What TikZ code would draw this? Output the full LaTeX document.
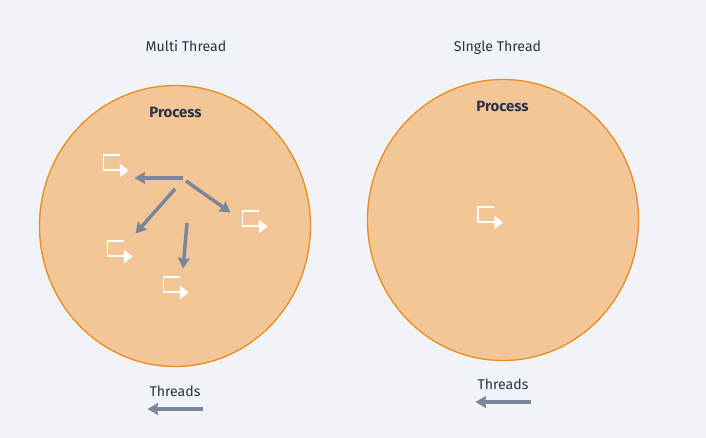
\documentclass[tikz,border=0pt]{standalone}
\usepackage{fontspec}
\setmainfont{Fira Sans}
\usetikzlibrary{arrows.meta}
\definecolor{pagebg}{HTML}{F0F4F9}
\definecolor{procfill}{HTML}{F3C697}
\definecolor{procline}{HTML}{EE8C22}
\definecolor{threadgray}{HTML}{7A869A}
\definecolor{labeltext}{HTML}{2A3347}
\tikzset{
    process/.style = {draw = procline, fill = procfill, line width = 1pt},
    threadarrow/.style = {draw = threadgray, line width = 2.6pt, -{Stealth[length = 8pt, width = 9pt, inset = 1pt]}},
    caption/.style = {anchor = base, text = labeltext, font = \fontsize{10.6}{12}\selectfont},
    proclabel/.style = {anchor = base, text = labeltext, font = \fontsize{11.2}{12}\selectfont\bfseries},
    threadicon/.pic = {
        \draw[white, line width = 1.4pt] (16,0) -- (0,0) -- (0,15) -- (17,15);
        \fill[white] (16.3,8.5) -- (25,15.5) -- (16.3,22.5) -- cycle;
    }
}
\begin{document}
\begin{tikzpicture}[x = 0.75pt, y = -0.75pt]
        \fill[pagebg] (0,0) rectangle (706,438);
        \useasboundingbox (0,0) rectangle (706,438);

        % left process
        \draw[process] (175,226) ellipse (135.5 and 140.5);
        \node[caption] (multi) at (186,51.7) {Multi Thread};
        \node[proclabel] (procA) at (175.5,117.7) {Process};

        \pic at (103.5,155) {threadicon};
        \pic at (242.5,211) {threadicon};
        \pic at (107.5,241) {threadicon};
        \pic at (163.5,277) {threadicon};

        \coordinate (s1) at (183,178);
        \coordinate (e1) at (134.5,178);
        \coordinate (s2) at (175,189);
        \coordinate (e2) at (135.5,233.5);
        \coordinate (s3) at (186,181);
        \coordinate (e3) at (230.5,212.5);
        \coordinate (s4) at (187,223);
        \coordinate (e4) at (183,268.5);
        \draw[threadarrow] (s1) -- (e1);
        \draw[threadarrow] (s2) -- (e2);
        \draw[threadarrow] (s3) -- (e3);
        \draw[threadarrow] (s4) -- (e4);

        % right process
        \draw[process] (503,220) ellipse (135.5 and 140.5);
        \node[caption] (single) at (497.5,51.7) {SIngle Thread};
        \node[proclabel] (procB) at (502.5,111.7) {Process};
        \pic at (478,207) {threadicon};

        % legend
        \node[caption] (legA) at (175,396.7) {Threads};
        \coordinate (la1) at (203,409);
        \coordinate (la2) at (147.5,409);
        \draw[threadarrow] (la1) -- (la2);

        \node[caption] (legB) at (503,389.7) {Threads};
        \coordinate (lb1) at (531,402);
        \coordinate (lb2) at (475.5,402);
        \draw[threadarrow] (lb1) -- (lb2);
\end{tikzpicture}
\end{document}
